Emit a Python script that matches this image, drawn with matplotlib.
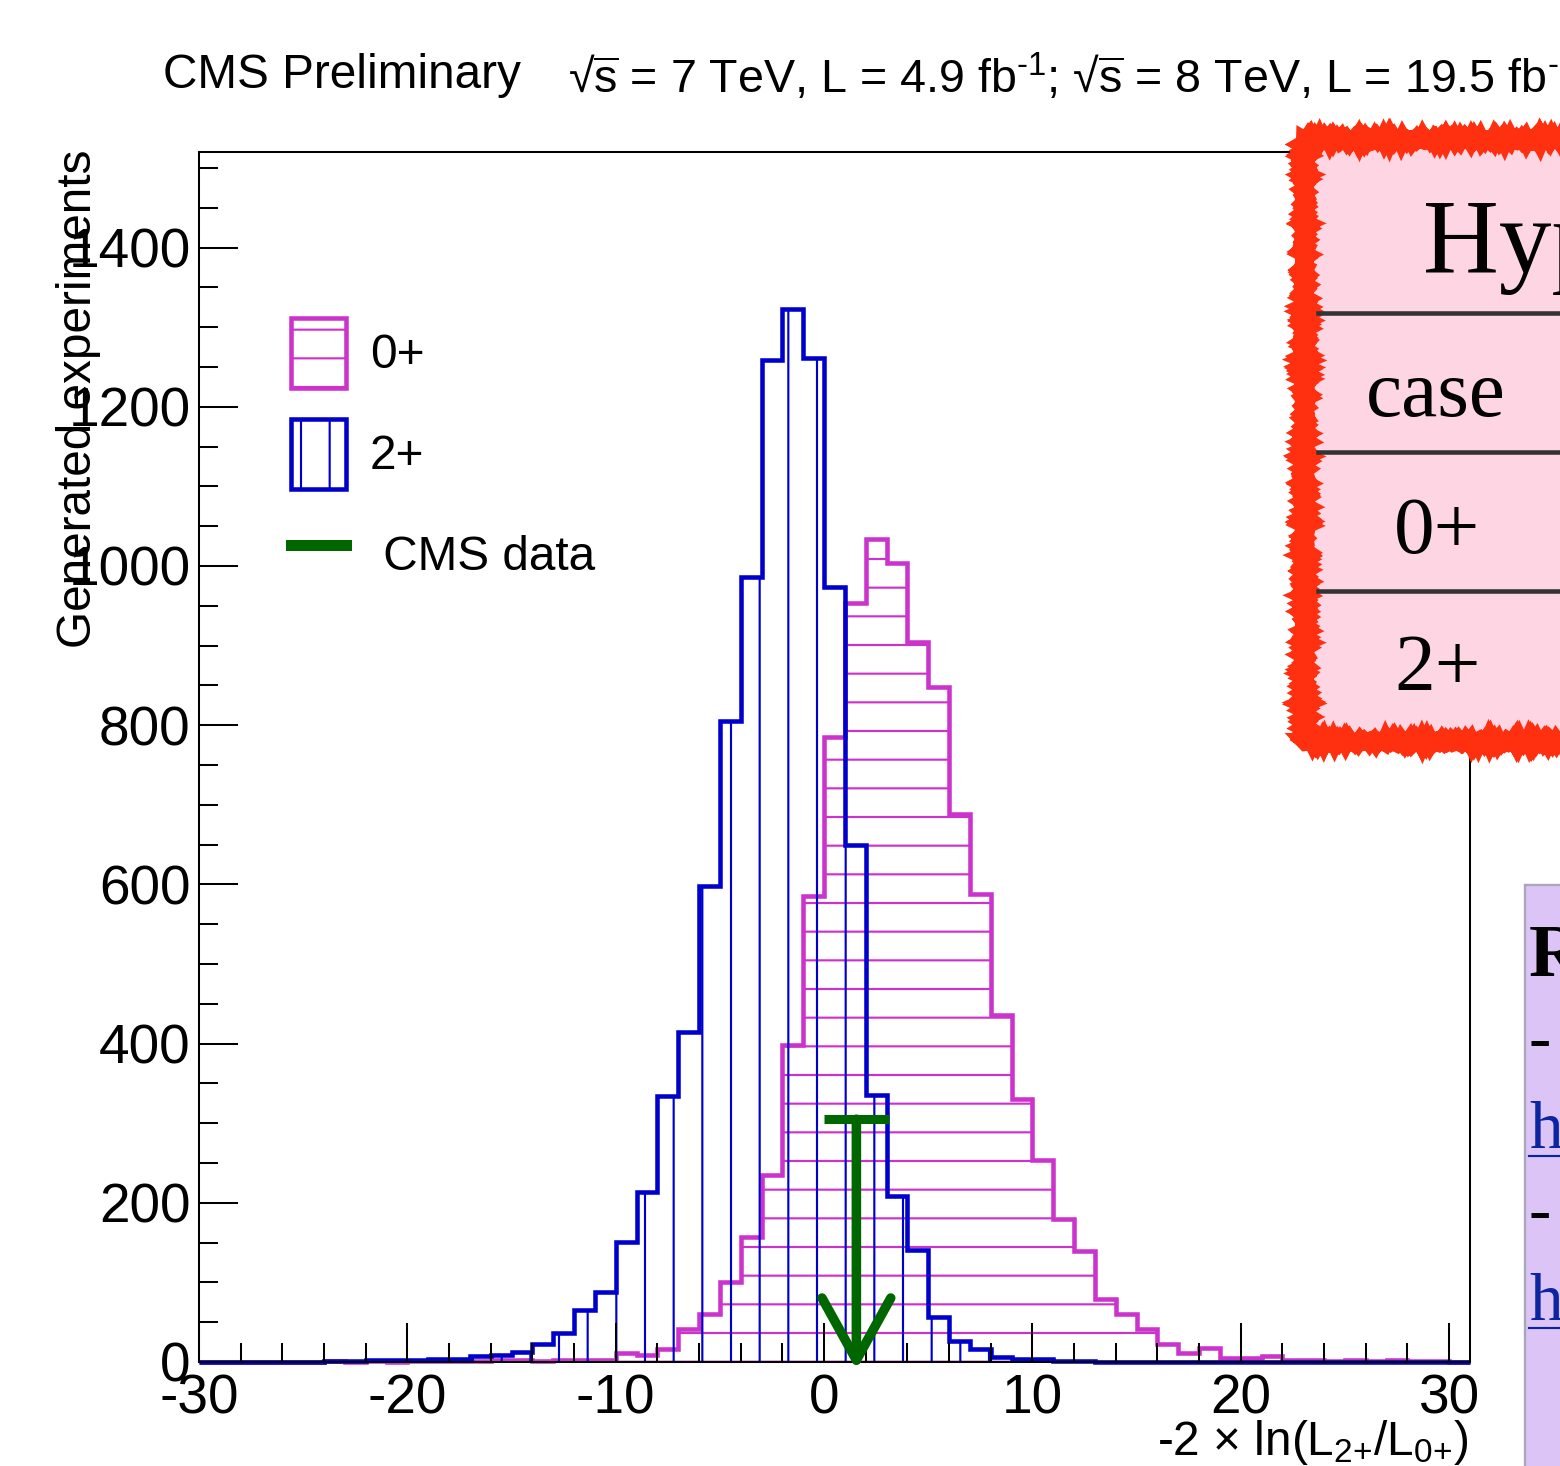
import numpy as np
import matplotlib
matplotlib.use("Agg")
import matplotlib.pyplot as plt
from matplotlib.patches import Patch, Rectangle
from matplotlib.lines import Line2D

W, H, DPI = 1560, 1466, 172

# histogram: 1-unit bins from -30 to 31
edges = np.arange(-30, 32)
# 0+ hypothesis toys, bins -30 .. 30
n_0plus = [0, 0, 0, 0, 0, 0, 1, 0, 1, 0,
           1, 1, 1, 1, 2, 2, 1, 2, 2, 3,
           11, 9, 16, 41, 60, 101, 157, 235, 398, 585,
           785, 953, 1034, 1004, 904, 848, 688, 588, 436, 331,
           254, 180, 139, 79, 60, 41, 23, 11, 17, 5,
           5, 7, 2, 3, 1, 3, 1, 3, 1, 1,
           0]
# 2+ hypothesis toys, bins -30 .. 30
n_2plus = [0, 0, 0, 0, 0, 0, 1, 1, 2, 2,
           2, 4, 4, 7, 9, 13, 23, 36, 65, 88,
           151, 214, 334, 414, 598, 805, 986, 1259, 1323, 1261,
           974, 649, 335, 208, 141, 56, 27, 16, 6, 4,
           4, 1, 1, 0, 0, 0, 0, 0, 0, 0,
           0, 0, 0, 0, 0, 0, 0, 0, 0, 0,
           0]
labels = ["0+", "2+", " CMS data"]

# observed value (arrow)
obs_x = 1.55
obs_top = 305
obs_halfwidth = 1.55
obs_tip = -10

col_0 = "#cc33cc"
col_2 = "#0000cc"
col_data = "#006600"

plt.rcParams["font.family"] = ["Liberation Sans", "DejaVu Sans"]
plt.rcParams["mathtext.fontset"] = "custom"
plt.rcParams["mathtext.rm"] = "Liberation Sans"
plt.rcParams["mathtext.it"] = "Liberation Sans:italic"
plt.rcParams["axes.unicode_minus"] = False
plt.rcParams["hatch.linewidth"] = 0.9


def px(x):
    return x / W


def py(y):
    return 1 - y / H


fig = plt.figure(figsize=(W / DPI, H / DPI), dpi=DPI)
ax = fig.add_axes([px(199), py(1362), px(1470) - px(199), py(152) - py(1362)])

# hatched areas, then outlines
ax.stairs(n_0plus, edges, fill=True, facecolor="none", edgecolor=col_0, hatch="-", linewidth=0)
ax.stairs(n_0plus, edges, color=col_0, linewidth=1.9, clip_on=False)
ax.stairs(n_2plus, edges, fill=True, facecolor="none", edgecolor=col_2, hatch="|", linewidth=0)
ax.stairs(n_2plus, edges, color=col_2, linewidth=1.9, clip_on=False)

# CMS data arrow
ax.plot([obs_x - obs_halfwidth, obs_x + obs_halfwidth], [obs_top, obs_top],
        color=col_data, lw=3.8, solid_capstyle="butt")
ax.annotate("", xy=(obs_x, obs_tip), xytext=(obs_x, obs_top), annotation_clip=False,
            arrowprops=dict(arrowstyle="->,head_length=1.3,head_width=0.72",
                            mutation_scale=20, lw=4.0, color=col_data,
                            shrinkA=0, shrinkB=0))

ax.set_xlim(-30, 31)
ax.set_ylim(0, 1520)
ax.set_xticks(np.arange(-30, 31, 10))
ax.set_xticks(np.arange(-30, 31, 2), minor=True)
ax.set_yticks(np.arange(0, 1401, 200))
ax.set_yticks(np.arange(0, 1501, 50), minor=True)
ax.tick_params(which="both", direction="in", width=0.85, top=False, right=False,
               labelsize=23)
ax.tick_params(which="major", length=16.3)
ax.tick_params(which="minor", length=8)
ax.tick_params(axis="y", pad=3.5)
ax.tick_params(axis="x", pad=5)
for s in ax.spines.values():
    s.set_linewidth(0.85)

# legend
handles = [Patch(facecolor="none", edgecolor=col_0, hatch="-", lw=1.9),
           Patch(facecolor="none", edgecolor=col_2, hatch="|", lw=1.9),
           Line2D([], [], color=col_data, lw=4.6)]
fig.legend(handles, labels, loc="upper left", bbox_to_anchor=(px(291), py(318)),
           bbox_transform=fig.transFigure, frameon=False, fontsize=20,
           borderpad=0, borderaxespad=0, handlelength=1.15, handleheight=1.876,
           labelspacing=0.65, handletextpad=0.5)

# axis titles and header
fig.text(px(79), py(150), "Generated experiments", rotation=90, ha="center", va="top",
         fontsize=20)
fig.text(px(1468), py(1455), r"-2 $\times$ ln(L$_{\text{2+}}$/L$_{\text{0+}}$)",
         ha="right", va="baseline", fontsize=20)
fig.text(px(163), py(88), "CMS Preliminary", ha="left", va="baseline", fontsize=20)
fig.text(px(568), py(93),
         r"√$\overline{\mathrm{s}}$ = 7 TeV, L = 4.9 fb$^{\text{-1}}$; "
         r"√$\overline{\mathrm{s}}$ = 8 TeV, L = 19.5 fb$^{\text{-1}}$",
         ha="left", va="baseline", fontsize=19.5)

# slide overlay: pink table box with rough red border
pink = Rectangle((px(1303.5), py(741)), px(1700) - px(1303.5), py(139) - py(741),
                 transform=fig.transFigure, facecolor="#fdd5e3", edgecolor="#ff3010",
                 lw=7.1, zorder=10, clip_on=False)
pink.set_sketch_params(scale=1.2, length=3, randomness=2)
fig.add_artist(pink)
for yl in [313, 452, 591]:
    fig.add_artist(Line2D([px(1318), px(1600)], [py(yl), py(yl)], transform=fig.transFigure,
                          color="#333333", lw=1.9, zorder=11))
serif = ["Liberation Serif", "DejaVu Serif"]
fig.text(px(1423), py(272), "Hypothesis", family=serif, fontsize=44, zorder=12)
fig.text(px(1366), py(416), "case", family=serif, fontsize=34, zorder=12)
fig.text(px(1394), py(553), "0+", family=serif, fontsize=34, zorder=12)
fig.text(px(1394), py(690), "2+", family=serif, fontsize=34, zorder=12)

# slide overlay: lavender references box
lav = Rectangle((px(1525), py(1500)), px(1700) - px(1525), py(885) - py(1500),
                transform=fig.transFigure, facecolor="#dcc4f6", edgecolor="#a8a8b8",
                lw=1, zorder=10, clip_on=False)
fig.add_artist(lav)
fig.text(px(1529), py(975), "References", family=serif, fontsize=31, weight="bold", zorder=12)
fig.text(px(1529), py(1060), "- CMS PAS", family=serif, fontsize=28, zorder=12)
fig.text(px(1529), py(1148), "http://cds.cern.ch", family=serif, fontsize=28,
         color="#0b24a0", zorder=12)
fig.add_artist(Line2D([px(1529), px(1600)], [py(1156), py(1156)], transform=fig.transFigure,
                      color="#0b24a0", lw=0.9, zorder=12))
fig.text(px(1529), py(1232), "- CMS PAS", family=serif, fontsize=28, zorder=12)
fig.text(px(1529), py(1320), "http://cds.cern.ch", family=serif, fontsize=28,
         color="#0b24a0", zorder=12)
fig.add_artist(Line2D([px(1529), px(1600)], [py(1328), py(1328)], transform=fig.transFigure,
                      color="#0b24a0", lw=0.9, zorder=12))

fig.savefig("out.png", dpi=DPI)
